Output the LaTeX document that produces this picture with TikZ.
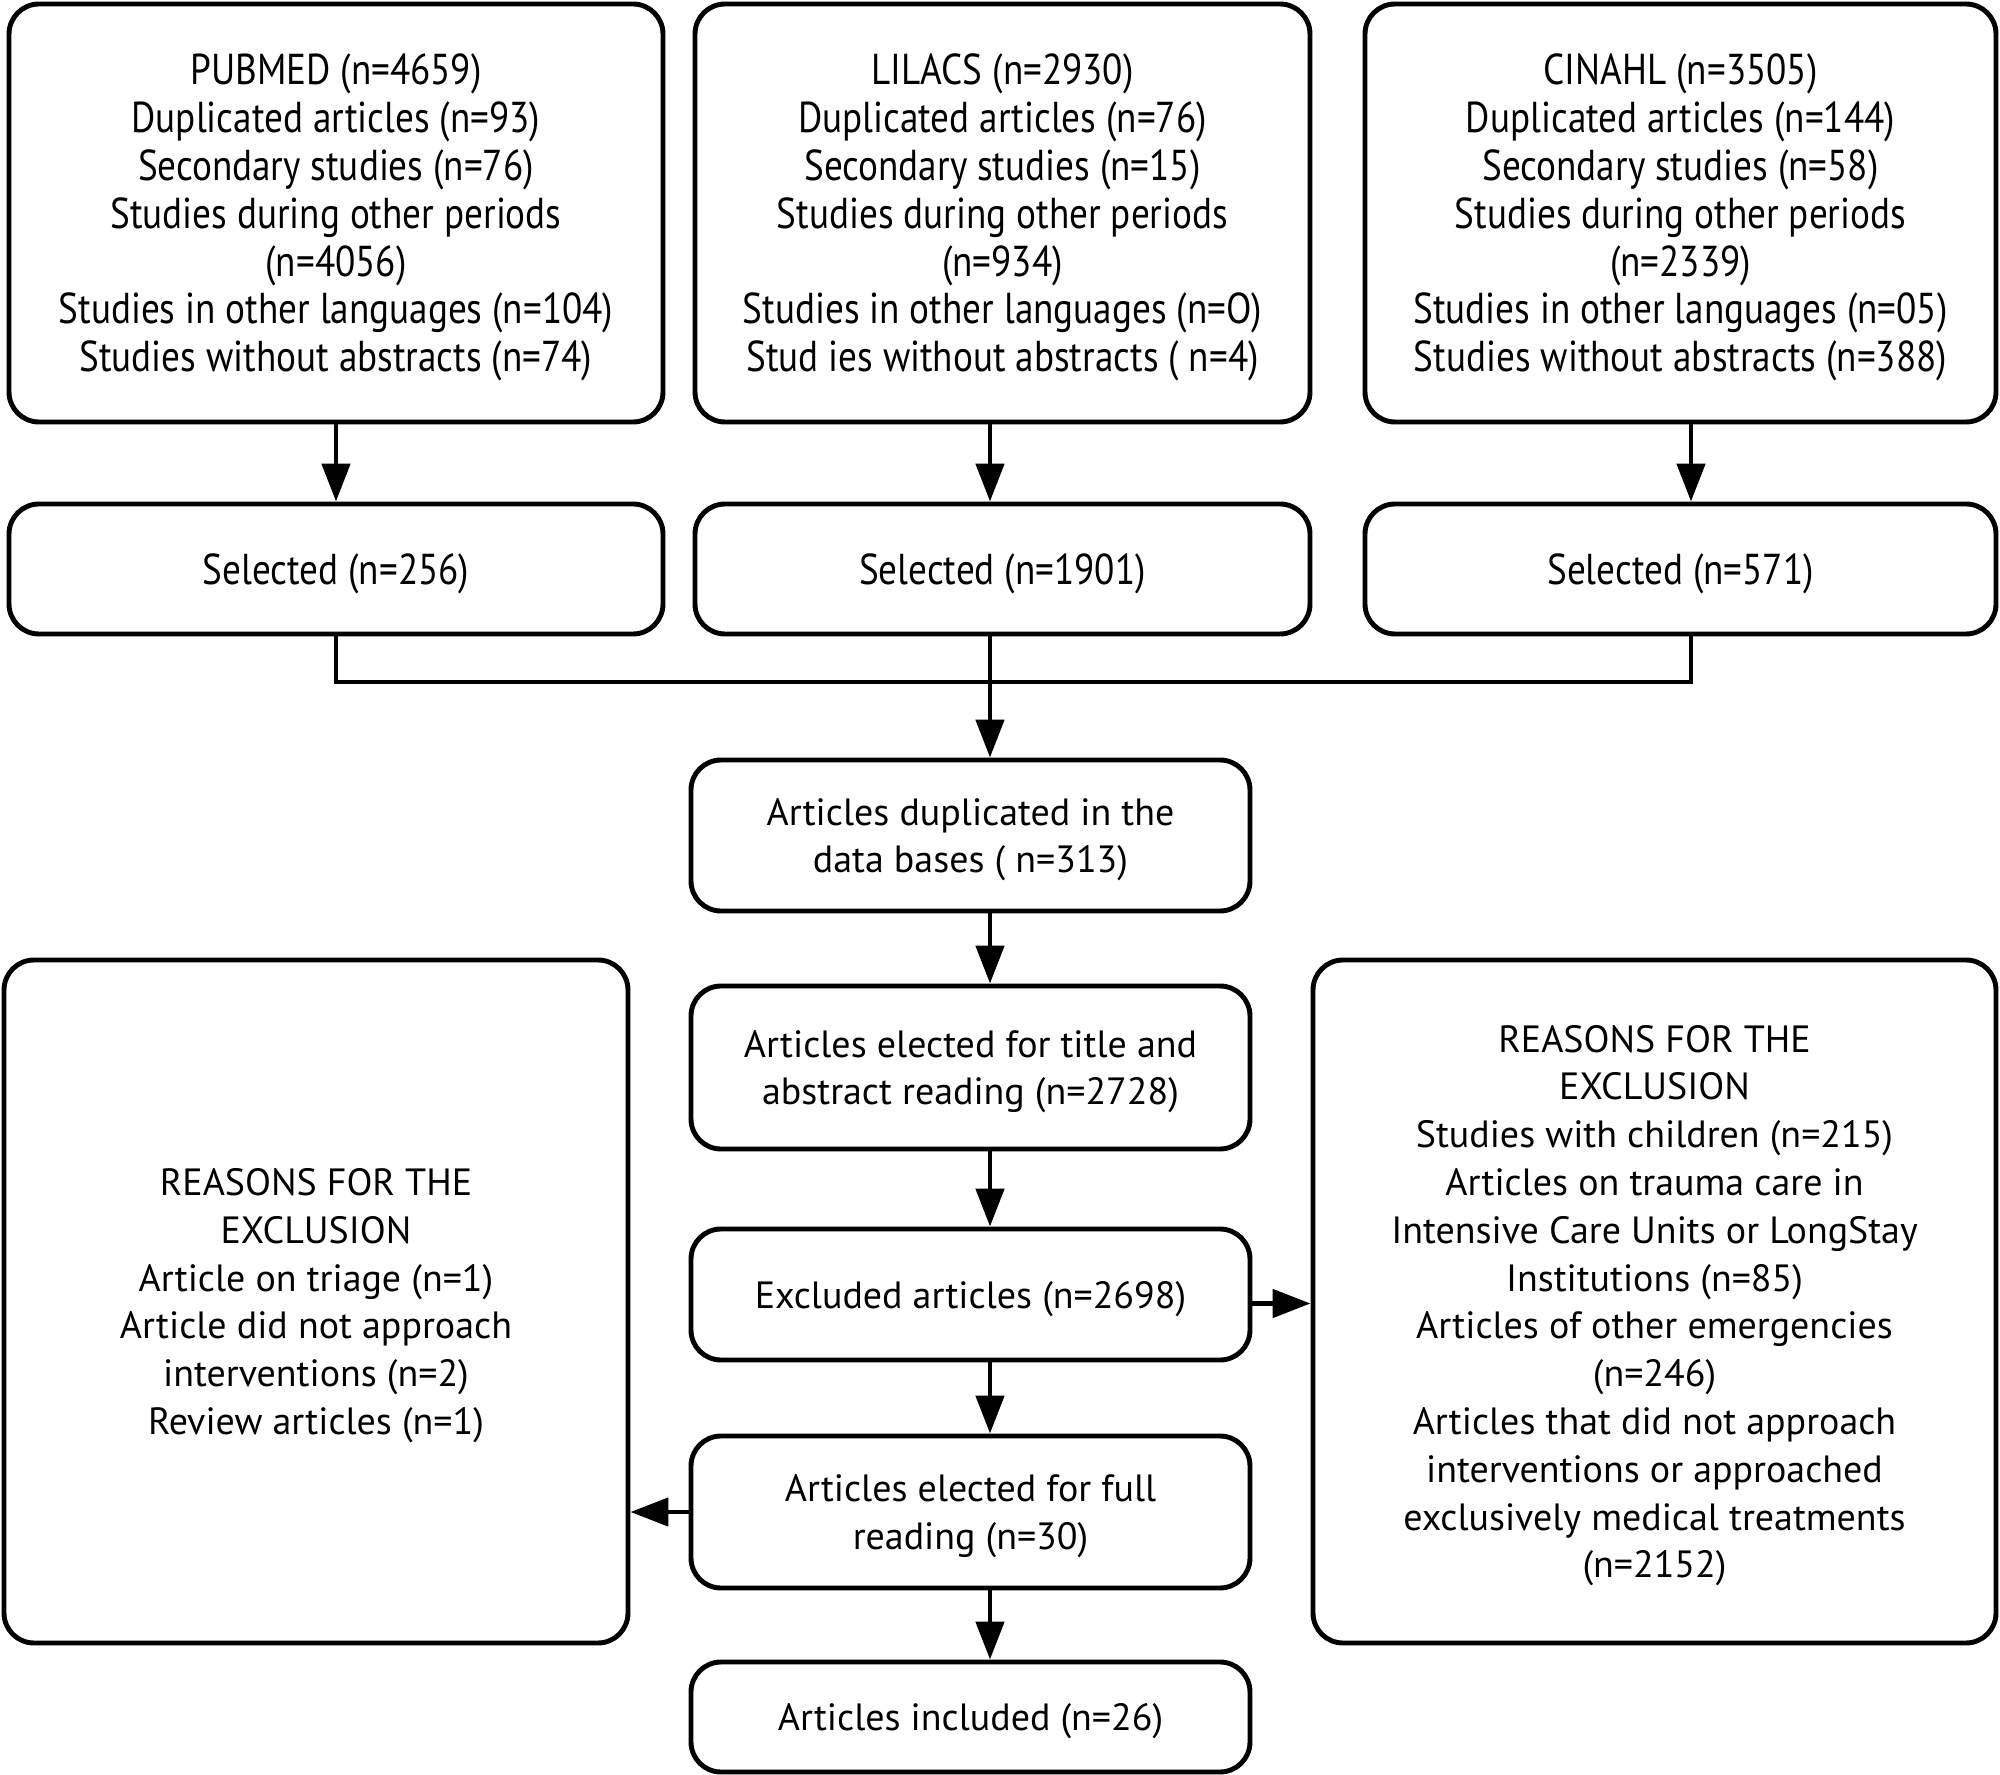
\documentclass[tikz,border=0pt]{standalone}
\usepackage{fontspec}
\setmainfont{PT Sans}
\newfontfamily\condfont[FakeStretch=0.86]{PT Sans}
\usetikzlibrary{arrows.meta}

\begin{document}
\begin{tikzpicture}[x=1cm, y=1cm, line width=1.4pt,
    box/.style={draw, rounded corners=0.3cm, align=center, inner sep=0pt,
      text depth=-1pt, font=\fontsize{10.8}{13.6}\selectfont},
    dbbox/.style={box, font=\condfont\fontsize{12.3}{13.6}\selectfont},
    arr/.style={-{Triangle[length=0.38cm, width=0.28cm]}}]
  \useasboundingbox (0,0) rectangle (20,17.74);

  \node[dbbox, minimum width=6.54cm, minimum height=4.18cm] (pub) at (3.36,15.61)
    {PUBMED (n=4659)\\Duplicated articles (n=93)\\Secondary studies (n=76)\\Studies during other periods\\(n=4056)\\Studies in other languages (n=104)\\Studies without abstracts (n=74)};
  \node[dbbox, minimum width=6.15cm, minimum height=4.18cm] (lil) at (10.025,15.61)
    {LILACS (n=2930)\\Duplicated articles (n=76)\\Secondary studies (n=15)\\Studies during other periods\\(n=934)\\Studies in other languages (n=O)\\Stud ies without abstracts ( n=4)};
  \node[dbbox, minimum width=6.31cm, minimum height=4.18cm] (cin) at (16.805,15.61)
    {CINAHL (n=3505)\\Duplicated articles (n=144)\\Secondary studies (n=58)\\Studies during other periods\\(n=2339)\\Studies in other languages (n=05)\\Studies without abstracts (n=388)};

  \node[dbbox, minimum width=6.54cm, minimum height=1.3cm] (pubsel) at (3.36,12.05) {Selected (n=256)};
  \node[dbbox, minimum width=6.15cm, minimum height=1.3cm] (lilsel) at (10.025,12.05) {Selected (n=1901)};
  \node[dbbox, minimum width=6.31cm, minimum height=1.3cm] (cinsel) at (16.805,12.05) {Selected (n=571)};

  \node[box, minimum width=5.59cm, minimum height=1.51cm] (dup) at (9.705,9.385)
    {Articles duplicated in the\\data bases ( n=313)};
  \node[box, minimum width=5.59cm, minimum height=1.63cm] (elect) at (9.705,7.065)
    {Articles elected for title and\\abstract reading (n=2728)};
  \node[box, minimum width=5.59cm, minimum height=1.31cm] (excl) at (9.705,4.795)
    {Excluded articles (n=2698)};
  \node[box, minimum width=5.59cm, minimum height=1.52cm] (full) at (9.705,2.62)
    {Articles elected for full\\reading (n=30)};
  \node[box, minimum width=5.59cm, minimum height=1.1cm] (incl) at (9.705,0.57)
    {Articles included (n=26)};

  \node[box, minimum width=6.24cm, minimum height=6.83cm] (left) at (3.16,4.725)
    {REASONS FOR THE\\EXCLUSION\\Article on triage (n=1)\\Article did not approach\\interventions (n=2)\\Review articles (n=1)};
  \node[box, minimum width=6.83cm, minimum height=6.83cm] (right) at (16.545,4.725)
    {REASONS FOR THE\\EXCLUSION\\Studies with children (n=215)\\Articles on trauma care in\\Intensive Care Units or LongStay\\Institutions (n=85)\\Articles of other emergencies\\(n=246)\\Articles that did not approach\\interventions or approached\\exclusively medical treatments\\(n=2152)};

  \coordinate (spine) at (9.9,10.92);

  \draw[arr] (pub) -- (pubsel);
  \draw[arr] (lil.south -| spine) -- (lilsel.north -| spine);
  \draw[arr] ([xshift=1.05mm]cin.south) -- ([xshift=1.05mm]cinsel.north);
  \draw (pubsel.south) |- (spine) -| ([xshift=1.05mm]cinsel.south);
  \draw (lilsel.south -| spine) -- (spine);
  \draw[arr] (spine) -- (dup.north -| spine);
  \draw[arr] (dup.south -| spine) -- (elect.north -| spine);
  \draw[arr] (elect.south -| spine) -- (excl.north -| spine);
  \draw[arr] (excl.south -| spine) -- (full.north -| spine);
  \draw[arr] (full.south -| spine) -- (incl.north -| spine);
  \draw[arr] ([yshift=-0.9mm]excl.east) -- ([yshift=-0.9mm]excl.east -| right.west);
  \draw[arr] (full.west) -- (full.west -| left.east);
\end{tikzpicture}
\end{document}
